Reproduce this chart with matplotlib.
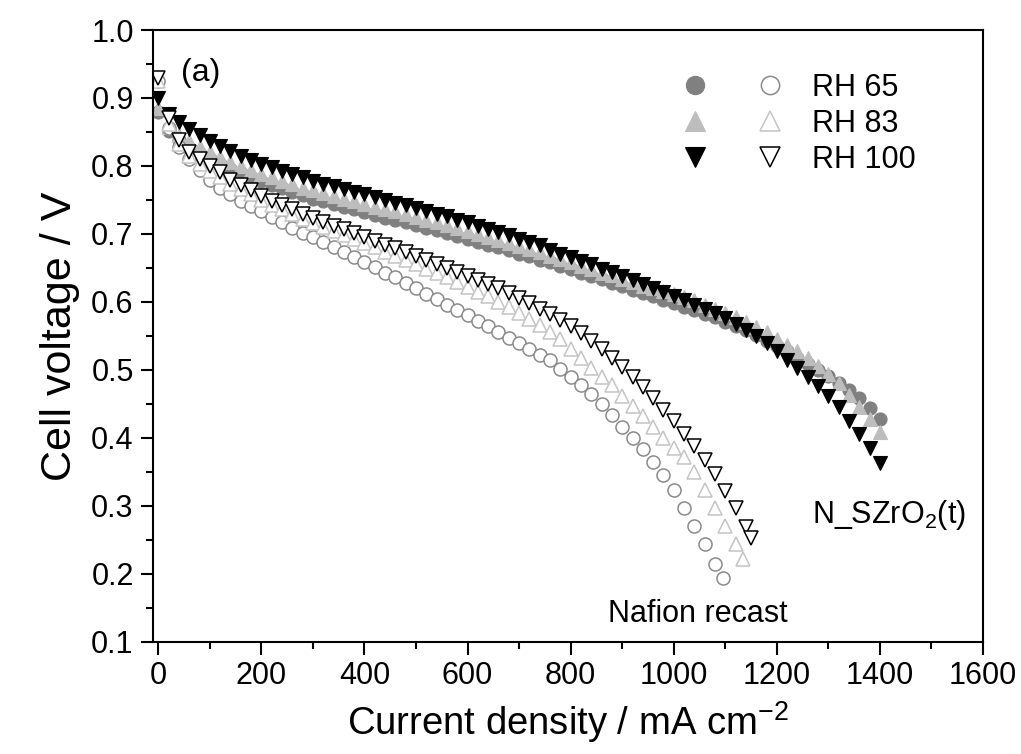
import matplotlib
matplotlib.use("Agg")
import matplotlib.pyplot as plt
from matplotlib.ticker import MultipleLocator, FormatStrFormatter
from matplotlib.legend_handler import HandlerTuple

plt.rcParams['font.family'] = ['Liberation Sans', 'DejaVu Sans']
plt.rcParams['mathtext.fontset'] = 'custom'
plt.rcParams['mathtext.rm'] = 'Liberation Sans'
plt.rcParams['mathtext.default'] = 'regular'

# ---------------- data ----------------
# current densities (mA cm-2)
i_szr = [0, 20, 40, 60, 80, 100, 120, 140, 160, 180, 200, 220, 240, 260, 280, 300,
         320, 340, 360, 380, 400, 420, 440, 460, 480, 500, 520, 540, 560, 580, 600,
         620, 640, 660, 680, 700, 720, 740, 760, 780, 800, 820, 840, 860, 880, 900,
         920, 940, 960, 980, 1000, 1020, 1040, 1060, 1080, 1100, 1120, 1140, 1160,
         1180, 1200, 1220, 1240, 1260, 1280, 1300, 1320, 1340, 1360, 1380, 1400]

# N_SZrO2(t), RH 65 (filled circles)
v_szr_65 = [0.880, 0.852, 0.838, 0.827, 0.818, 0.810, 0.803, 0.796, 0.790, 0.784, 0.778,
            0.772, 0.767, 0.762, 0.757, 0.752, 0.748, 0.744, 0.740, 0.736, 0.732, 0.728,
            0.724, 0.720, 0.717, 0.713, 0.709, 0.705, 0.701, 0.697, 0.692, 0.688, 0.684,
            0.680, 0.676, 0.671, 0.667, 0.662, 0.658, 0.653, 0.648, 0.643, 0.638, 0.633,
            0.628, 0.623, 0.618, 0.613, 0.608, 0.603, 0.598, 0.593, 0.588, 0.582, 0.577,
            0.571, 0.565, 0.558, 0.551, 0.543, 0.535, 0.527, 0.518, 0.509, 0.500, 0.491,
            0.481, 0.470, 0.458, 0.444, 0.428]
# N_SZrO2(t), RH 83 (filled up triangles)
v_szr_83 = [0.885, 0.858, 0.846, 0.836, 0.828, 0.820, 0.813, 0.806, 0.800, 0.794, 0.788,
            0.783, 0.778, 0.773, 0.768, 0.764, 0.760, 0.756, 0.752, 0.748, 0.744, 0.740,
            0.737, 0.733, 0.729, 0.725, 0.721, 0.717, 0.713, 0.709, 0.704, 0.700, 0.695,
            0.691, 0.687, 0.682, 0.678, 0.673, 0.668, 0.663, 0.658, 0.653, 0.648, 0.643,
            0.639, 0.634, 0.629, 0.624, 0.620, 0.616, 0.612, 0.607, 0.602, 0.596, 0.590,
            0.584, 0.578, 0.571, 0.563, 0.555, 0.546, 0.537, 0.527, 0.517, 0.506, 0.494,
            0.480, 0.463, 0.446, 0.428, 0.408]
# N_SZrO2(t), RH 100 (filled down triangles)
v_szr_100 = [0.900, 0.876, 0.865, 0.854, 0.845, 0.836, 0.829, 0.822, 0.815, 0.809, 0.803,
             0.798, 0.793, 0.788, 0.783, 0.778, 0.774, 0.770, 0.766, 0.762, 0.758, 0.754,
             0.750, 0.746, 0.742, 0.738, 0.734, 0.730, 0.726, 0.721, 0.717, 0.712, 0.707,
             0.703, 0.698, 0.693, 0.688, 0.683, 0.677, 0.671, 0.666, 0.660, 0.655, 0.649,
             0.644, 0.638, 0.632, 0.626, 0.620, 0.614, 0.608, 0.602, 0.596, 0.590, 0.583,
             0.576, 0.568, 0.559, 0.550, 0.539, 0.527, 0.515, 0.502, 0.489, 0.476, 0.462,
             0.445, 0.425, 0.405, 0.385, 0.363]

# Nafion recast, RH 65 (open circles)
i_naf_65 = [0, 20, 40, 60, 80, 100, 120, 140, 160, 180, 200, 220, 240, 260, 280, 300,
            320, 340, 360, 380, 400, 420, 440, 460, 480, 500, 520, 540, 560, 580, 600,
            620, 640, 660, 680, 700, 720, 740, 760, 780, 800, 820, 840, 860, 880, 900,
            920, 940, 960, 980, 1000, 1020, 1040, 1060, 1080, 1095]
v_naf_65 = [0.925, 0.856, 0.828, 0.810, 0.794, 0.779, 0.768, 0.758, 0.749, 0.741, 0.733,
            0.725, 0.717, 0.709, 0.702, 0.695, 0.688, 0.680, 0.673, 0.666, 0.658, 0.651,
            0.643, 0.636, 0.628, 0.620, 0.612, 0.604, 0.596, 0.588, 0.580, 0.572, 0.564,
            0.556, 0.547, 0.539, 0.531, 0.522, 0.514, 0.501, 0.489, 0.477, 0.465, 0.449,
            0.433, 0.416, 0.399, 0.383, 0.365, 0.345, 0.323, 0.297, 0.270, 0.243, 0.214,
            0.193]
# Nafion recast, RH 83 (open up triangles)
i_naf_83 = [0, 20, 40, 60, 80, 100, 120, 140, 160, 180, 200, 220, 240, 260, 280, 300,
            320, 340, 360, 380, 400, 420, 440, 460, 480, 500, 520, 540, 560, 580, 600,
            620, 640, 660, 680, 700, 720, 740, 760, 780, 800, 820, 840, 860, 880, 900,
            920, 940, 960, 980, 1000, 1020, 1040, 1060, 1080, 1100, 1120, 1135]
v_naf_83 = [0.925, 0.862, 0.832, 0.815, 0.803, 0.793, 0.784, 0.774, 0.766, 0.758, 0.750,
            0.743, 0.736, 0.729, 0.722, 0.716, 0.710, 0.704, 0.698, 0.692, 0.686, 0.680,
            0.674, 0.668, 0.662, 0.656, 0.649, 0.643, 0.636, 0.629, 0.622, 0.615, 0.608,
            0.600, 0.592, 0.583, 0.575, 0.566, 0.556, 0.545, 0.531, 0.517, 0.503, 0.490,
            0.477, 0.462, 0.447, 0.432, 0.416, 0.400, 0.385, 0.371, 0.349, 0.323, 0.297,
            0.270, 0.243, 0.222]
# Nafion recast, RH 100 (open down triangles)
i_naf_100 = [0, 20, 40, 60, 80, 100, 120, 140, 160, 180, 200, 220, 240, 260, 280, 300,
             320, 340, 360, 380, 400, 420, 440, 460, 480, 500, 520, 540, 560, 580, 600,
             620, 640, 660, 680, 700, 720, 740, 760, 780, 800, 820, 840, 860, 880, 900,
             920, 940, 960, 980, 1000, 1020, 1040, 1060, 1080, 1100, 1120, 1140, 1150]
v_naf_100 = [0.930, 0.870, 0.838, 0.821, 0.810, 0.800, 0.791, 0.780, 0.772, 0.764, 0.756,
             0.748, 0.742, 0.736, 0.729, 0.723, 0.718, 0.712, 0.707, 0.701, 0.695, 0.690,
             0.684, 0.679, 0.673, 0.667, 0.662, 0.656, 0.650, 0.644, 0.638, 0.632, 0.626,
             0.620, 0.613, 0.606, 0.598, 0.590, 0.582, 0.573, 0.564, 0.554, 0.543, 0.531,
             0.518, 0.504, 0.490, 0.474, 0.458, 0.441, 0.424, 0.406, 0.388, 0.368, 0.346,
             0.322, 0.296, 0.268, 0.252]

labels = ["RH 65", "RH 83", "RH 100"]
x_ticks = [0, 200, 400, 600, 800, 1000, 1200, 1400, 1600]
y_ticks = [0.1, 0.2, 0.3, 0.4, 0.5, 0.6, 0.7, 0.8, 0.9, 1.0]

# ---------------- figure ----------------
fig = plt.figure(figsize=(10.21, 7.54), dpi=100)
ax = fig.add_axes([0.150, 0.149, 0.8128, 0.8112])

ms_c = 9.4
ms_t = 10.2
g65 = '#808080'
g83 = '#bdbdbd'

h65f, = ax.plot(i_szr, v_szr_65, 'o', ms=ms_c, color=g65, mec=g65, mew=0.8, ls='none')
h83f, = ax.plot(i_szr, v_szr_83, '^', ms=ms_t, color=g83, mec=g83, mew=0.8, ls='none')
h100f, = ax.plot(i_szr, v_szr_100, 'v', ms=ms_t, color='black', mec='black', mew=0.8, ls='none')

h65o, = ax.plot(i_naf_65, v_naf_65, 'o', ms=ms_c, mfc='white', mec='#8a8a8a', mew=1.1, ls='none')
h83o, = ax.plot(i_naf_83, v_naf_83, '^', ms=ms_t, mfc='white', mec='#c4c4c4', mew=1.1, ls='none')
h100o, = ax.plot(i_naf_100, v_naf_100, 'v', ms=ms_t, mfc='white', mec='black', mew=1.1, ls='none')

ax.set_xlim(-10, 1600)
ax.set_ylim(0.1, 1.0)
ax.set_xticks(x_ticks)
ax.set_yticks(y_ticks)
ax.xaxis.set_minor_locator(MultipleLocator(100))
ax.yaxis.set_minor_locator(MultipleLocator(0.05))
ax.yaxis.set_major_formatter(FormatStrFormatter('%.1f'))

for s in ax.spines.values():
    s.set_linewidth(1.5)
ax.tick_params(which='both', direction='out', top=False, right=False, width=1.5,
               labelsize=22, pad=5)
ax.tick_params(which='major', length=9)
ax.tick_params(which='minor', length=5)

ax.set_xlabel('Current density / mA cm$^{-2}$', fontsize=27.5, labelpad=6)
ax.set_ylabel('Cell voltage / V', fontsize=31, labelpad=8)

ax.text(45, 0.937, '(a)', fontsize=23, ha='left', va='center')
ax.text(1417, 0.286, 'N_SZrO$_2$(t)', fontsize=22, ha='center', va='center')
ax.text(1046, 0.140, 'Nafion recast', fontsize=22, ha='center', va='center')

leg_handles = [(h65f, h65o), (h83f, h83o), (h100f, h100o)]
leg = ax.legend(leg_handles, labels, handler_map={tuple: HandlerTuple(ndivide=None, pad=0.0)},
                loc='upper left', bbox_to_anchor=(0.589, 0.955), frameon=False,
                fontsize=22, handlelength=4.9, handletextpad=0.15, labelspacing=0.2,
                borderpad=0.0, markerscale=1.4)

fig.savefig('out.png', dpi=100)
